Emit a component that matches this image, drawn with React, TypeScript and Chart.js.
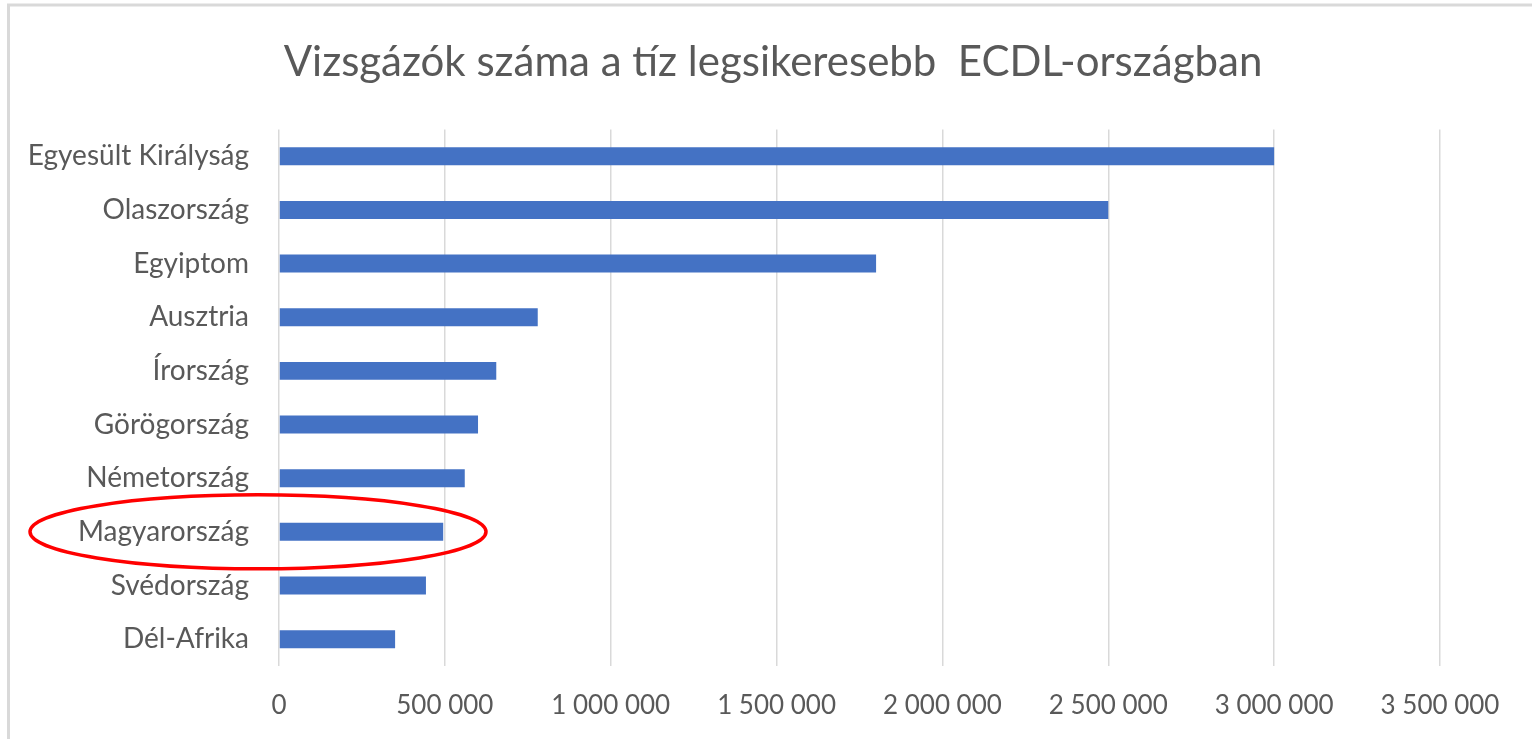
import React, { useEffect, useRef } from "react";
import { Chart, registerables } from "chart.js";

Chart.register(...registerables);

const titleText = "Vizsgázók száma a tíz legsikeresebb  ECDL-országban";
const categories = [
  "Egyesült Királyság",
  "Olaszország",
  "Egyiptom",
  "Ausztria",
  "Írország",
  "Görögország",
  "Németország",
  "Magyarország",
  "Svédország",
  "Dél-Afrika",
];
const values = [3000000, 2500000, 1800000, 780000, 655000, 600000, 560000, 495000, 443000, 350000];
const axisMin = 0;
const axisMax = 3500000;
const axisStep = 500000;
const highlightedCategory = "Magyarország";

const fmt = (v: number) => {
  const s = Math.round(v).toString();
  return s.replace(/\B(?=(\d{3})+(?!\d))/g, " ");
};

const framePlugin = {
  id: "frame",
  beforeDraw(chart: any) {
    const ctx = chart.ctx;
    ctx.save();
    ctx.fillStyle = "#ffffff";
    ctx.fillRect(0, 0, chart.width, chart.height);
    ctx.strokeStyle = "#d9d9d9";
    ctx.lineWidth = 3;
    ctx.beginPath();
    ctx.moveTo(8.5, chart.height);
    ctx.lineTo(8.5, 5);
    ctx.lineTo(chart.width, 5);
    ctx.stroke();
    ctx.restore();
  },
};

const titleShiftPlugin = {
  id: "titleShift",
  afterLayout(chart: any) {
    const t = chart.titleBlock;
    if (t) {
      t.left = 106;
      t.right = chart.chartArea.right;
    }
  },
};

const ellipsePlugin = {
  id: "ellipse",
  afterDraw(chart: any) {
    const y = chart.scales.y;
    const idx = categories.indexOf(highlightedCategory);
    if (idx < 0) return;
    const cy = y.getPixelForValue(idx);
    const cx = chart.chartArea.left - 21;
    const ctx = chart.ctx;
    ctx.save();
    ctx.strokeStyle = "#ff0000";
    ctx.lineWidth = 3.5;
    ctx.beginPath();
    ctx.ellipse(cx, cy, 228, 37, 0, 0, Math.PI * 2);
    ctx.stroke();
    ctx.restore();
  },
};

export default function App() {
  const ref = useRef<HTMLCanvasElement | null>(null);
  useEffect(() => {
    if (!ref.current) return;
    const chart = new Chart(ref.current, {
      type: "bar",
      data: {
        labels: categories,
        datasets: [
          {
            data: values,
            backgroundColor: "#4472c4",
            borderWidth: 0,
            categoryPercentage: 1,
            barPercentage: 0.335,
          },
        ],
      },
      options: {
        indexAxis: "y",
        responsive: false,
        animation: false,
        layout: { padding: { left: 0, right: 92, top: 0, bottom: 0 } },
        plugins: {
          legend: { display: false },
          tooltip: { enabled: false },
          title: {
            display: true,
            text: titleText,
            color: "#595959",
            font: { family: "Lato", size: 42, weight: "normal", lineHeight: 1.2 },
            padding: { top: 37, bottom: 42 },
          },
        },
        scales: {
          x: {
            min: axisMin,
            max: axisMax,
            border: { display: false },
            grid: { color: "#d9d9d9", lineWidth: 1.5, drawTicks: false },
            ticks: {
              stepSize: axisStep,
              color: "#595959",
              font: { family: "Lato", size: 26 },
              padding: 24,
              maxRotation: 0,
              callback: (v: any) => fmt(Number(v)),
            },
            afterFit: (s: any) => {
              s.height = 73;
            },
          },
          y: {
            border: { display: false },
            grid: { display: false },
            ticks: {
              color: "#595959",
              font: { family: "Lato", size: 28 },
              padding: 22,
            },
            afterFit: (s: any) => {
              s.width = 279;
            },
          },
        },
      },
      plugins: [framePlugin, titleShiftPlugin, ellipsePlugin],
    });
    return () => chart.destroy();
  }, []);
  return (
    <div style={{ position: "fixed", left: 0, top: 0, width: 1532, height: 739 }}>
      <canvas ref={ref} width={1532} height={739} style={{ display: "block" }} />
    </div>
  );
}
